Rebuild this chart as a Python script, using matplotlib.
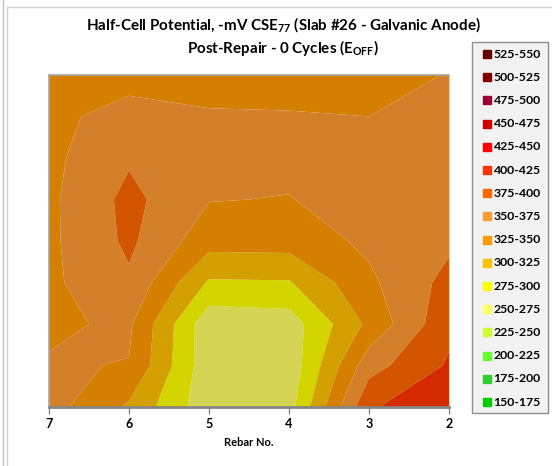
import matplotlib
matplotlib.use("Agg")
import numpy as np
import matplotlib.pyplot as plt
from matplotlib.patches import Rectangle
from matplotlib.lines import Line2D

# Half-cell potential survey (-mV CSE), rows run from the top of the slab to the bottom
rebar = [7, 6, 5, 4, 3, 2]
row_index = [0, 1, 2, 3, 4, 5, 6, 7, 8]
potential = [
    [335, 341, 342, 344, 342, 351],
    [344, 359, 352, 351, 350, 358],
    [344, 372, 360, 357, 360, 362],
    [345, 382, 351, 349, 362, 365],
    [345, 380, 335, 336, 355, 370],
    [345, 371, 297, 298, 345, 383],
    [346, 354, 258, 262, 331, 394],
    [352, 349, 258, 258, 365, 403],
    [360, 321, 258, 265, 397, 420],
]

band_labels = ["525-550", "500-525", "475-500", "450-475", "425-450", "400-425",
               "375-400", "350-375", "325-350", "300-325", "275-300", "250-275",
               "225-250", "200-225", "175-200", "150-175"]
band_colors = ["#660000", "#800000", "#990033", "#CC0000", "#FF0000", "#FF3300",
               "#FF6600", "#FF9933", "#FF9900", "#FFC000", "#FFFF00", "#FFFF66",
               "#CCFF33", "#66FF33", "#33CC33", "#00CC00"]
levels = list(range(150, 551, 25))

title_lines = ["Half-Cell Potential, -mV CSE$_{\\mathbf{77}}$ (Slab #26 - Galvanic Anode)",
               "Post-Repair - 0 Cycles (E$_{\\mathbf{OFF}}$)"]
x_label = "Rebar No."

FONT = "Lato"
plt.rcParams["font.family"] = [FONT, "DejaVu Sans"]
plt.rcParams["mathtext.fontset"] = "custom"
plt.rcParams["mathtext.rm"] = FONT
plt.rcParams["mathtext.bf"] = FONT + ":bold"

W, H = 552, 466
fig = plt.figure(figsize=(W / 100, H / 100), dpi=100)


def fx(px):
    return px / W


def fy(py):
    return 1 - py / H


# surface face shading applied to the band colours
shade = 0.83


def shaded(hexcol):
    r, g, b = matplotlib.colors.to_rgb(hexcol)
    return (r * shade, g * shade, b * shade)


fill_colors = [shaded(c) for c in band_colors[::-1]]

left, right, top, bottom = 49, 449, 75, 407
ax = fig.add_axes([fx(left), fy(bottom), fx(right) - fx(left), fy(top) - fy(bottom)])
X, Y = np.meshgrid(rebar, row_index)
Z = np.array(potential, dtype=float)
ax.contourf(X, Y, Z, levels=levels, colors=fill_colors, antialiased=True)
ax.set_xlim(7, 2)
ax.set_ylim(max(row_index), min(row_index))
ax.set_yticks([])
ax.set_xticks(rebar)
ax.set_xticklabels([str(r) for r in rebar], fontsize=9, fontweight="bold")
ax.tick_params(axis="x", direction="out", length=5, width=1, color="#868686", pad=3)
for side in ("top", "left"):
    ax.spines[side].set_color("#A6A6A6")
    ax.spines[side].set_linewidth(1.2)
ax.spines["right"].set_color("#E8C9A0")
ax.spines["right"].set_linewidth(0.8)
ax.spines["bottom"].set_color("#868686")
ax.spines["bottom"].set_linewidth(2)
ax.set_xlabel(x_label, fontsize=8, fontweight="bold", labelpad=5)

# titles
fig.text(fx(283), fy(25), title_lines[0], ha="center", va="center",
         fontsize=10.9, fontweight="bold")
fig.text(fx(283), fy(48), title_lines[1], ha="center", va="center",
         fontsize=10.9, fontweight="bold")

# legend panel
lx0, ly0, lx1, ly1 = 472, 42, 548, 413
fig.add_artist(Rectangle((fx(lx0), fy(ly1)), fx(lx1) - fx(lx0), fy(ly0) - fy(ly1),
                         transform=fig.transFigure, facecolor="#F2F2F2",
                         edgecolor="#8C8C8C", linewidth=1))
first, last = 54, 402
step = (last - first) / (len(band_labels) - 1)
for i, (lab, col) in enumerate(zip(band_labels, band_colors)):
    yy = first + i * step
    fig.add_artist(Line2D([fx(487)], [fy(yy)], transform=fig.transFigure,
                          marker="s", markersize=5.4, color=col, linestyle="none"))
    fig.text(fx(493.5), fy(yy), lab, ha="left", va="center", fontsize=8.8,
             fontweight="bold")

# outer chart frame
fig.add_artist(Line2D([fx(7), fx(7)], [fy(7), 0], transform=fig.transFigure,
                      color="#D0D0D0", linewidth=1))
fig.add_artist(Line2D([fx(7), 1], [fy(7), fy(7)], transform=fig.transFigure,
                      color="#D0D0D0", linewidth=1))
fig.add_artist(Line2D([fx(3), fx(3)], [1, 0], transform=fig.transFigure,
                      color="#BFBFBF", linewidth=1))

fig.savefig("out.png", dpi=100)
